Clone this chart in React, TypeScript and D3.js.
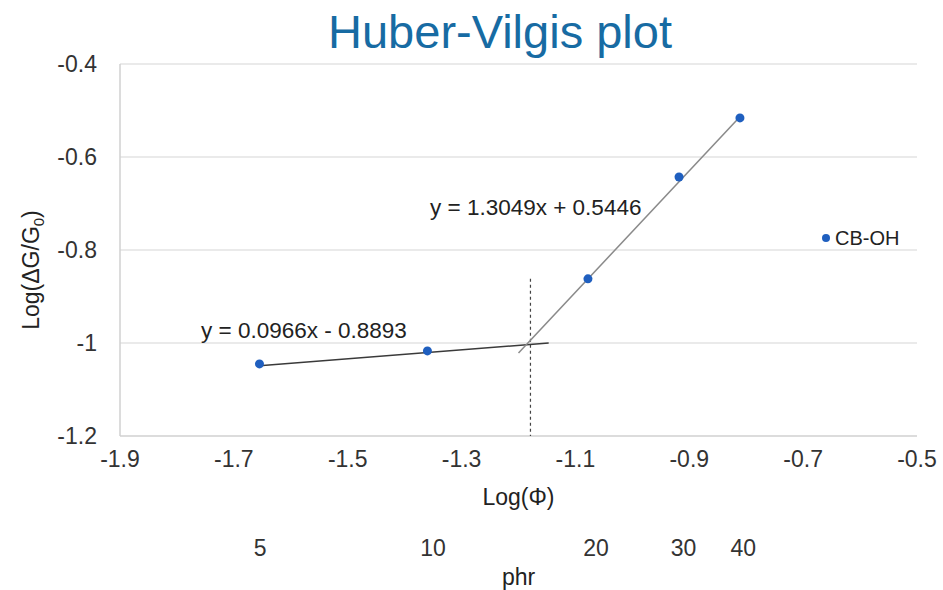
import React from "react";
import * as d3 from "d3";

const xTicks = [-1.9, -1.7, -1.5, -1.3, -1.1, -0.9, -0.7, -0.5];
const yTicks = [-0.4, -0.6, -0.8, -1, -1.2];
const logPhi = [-1.655, -1.36, -1.078, -0.918, -0.811];
const logG = [-1.045, -1.017, -0.862, -0.643, -0.516];
const phrLabels = ["5", "10", "20", "30", "40"];
const phrPos = [-1.654, -1.35, -1.064, -0.91, -0.805];
const fit1 = { slope: 0.0966, intercept: -0.8893, x0: -1.655, x1: -1.147, label: "y = 0.0966x - 0.8893" };
const fit2 = { slope: 1.3049, intercept: 0.5446, x0: -1.2, x1: -0.811, label: "y = 1.3049x + 0.5446" };
const breakX = -1.179;
const breakTop = -0.862;

const W = 943, H = 590;
const FONT = "'Liberation Sans', Arial, sans-serif";

export default function App() {
  const x = d3.scaleLinear().domain([-1.9, -0.5]).range([120, 917]);
  const y = d3.scaleLinear().domain([-1.2, -0.4]).range([436, 64]);
  const line = d3.line<number>().x((d) => x(d[0])).y((d) => y(d[1]));
  const seg = (f: typeof fit1) =>
    line([
      [f.x0, f.slope * f.x0 + f.intercept],
      [f.x1, f.slope * f.x1 + f.intercept],
    ] as any);
  return (
    <svg width={W} height={H} style={{ position: "absolute", left: 0, top: 0, background: "#fff" }} fontFamily={FONT}>
      <text x={500} y={48} textAnchor="middle" fontSize={47} fill="#176ba3">Huber-Vilgis plot</text>
      {yTicks.map((t) => (
        <g key={t}>
          <line x1={x(-1.9)} x2={x(-0.5)} y1={y(t)} y2={y(t)} stroke={t === -1.2 ? "#d0d0d0" : "#e3e3e3"} strokeWidth={1.5} />
          <text x={97} y={y(t)} dy="0.35em" textAnchor="end" fontSize={23} fill="#333">{t}</text>
        </g>
      ))}
      <line x1={x(-1.9)} x2={x(-1.9)} y1={y(-0.4)} y2={y(-1.2)} stroke="#d0d0d0" strokeWidth={1.5} />
      {xTicks.map((t) => (
        <text key={t} x={x(t)} y={467} textAnchor="middle" fontSize={23} fill="#333">{t}</text>
      ))}
      <text x={x(-1.2)} y={505} textAnchor="middle" fontSize={23} fill="#222">Log(Φ)</text>
      <text transform={`translate(39,${y(-0.8) + 20}) rotate(-90)`} textAnchor="middle" fontSize={23} fill="#222">
        Log(ΔG/G<tspan fontSize={15} dy={5}>0</tspan><tspan dy={-5}>)</tspan>
      </text>
      <line x1={x(breakX)} x2={x(breakX)} y1={y(breakTop)} y2={y(-1.2)} stroke="#444" strokeWidth={1.2} strokeDasharray="3,3" />
      <path d={seg(fit1) || ""} stroke="#3a3a3a" strokeWidth={1.5} fill="none" />
      <path d={seg(fit2) || ""} stroke="#8a8a8a" strokeWidth={1.5} fill="none" />
      {logPhi.map((v, i) => (
        <circle key={i} cx={x(v)} cy={y(logG[i])} r={4.5} fill="#1f5fbf" />
      ))}
      <text x={201} y={338} fontSize={22.5} fill="#222">{fit1.label}</text>
      <text x={430} y={215} fontSize={22.5} fill="#222">{fit2.label}</text>
      <circle cx={826} cy={238} r={4} fill="#1f5fbf" />
      <text x={835} y={245} fontSize={20} fill="#222">CB-OH</text>
      {phrLabels.map((l, i) => (
        <text key={l} x={x(phrPos[i])} y={556} textAnchor="middle" fontSize={23} fill="#333">{l}</text>
      ))}
      <text x={x(-1.2)} y={585} textAnchor="middle" fontSize={23} fill="#222">phr</text>
    </svg>
  );
}
